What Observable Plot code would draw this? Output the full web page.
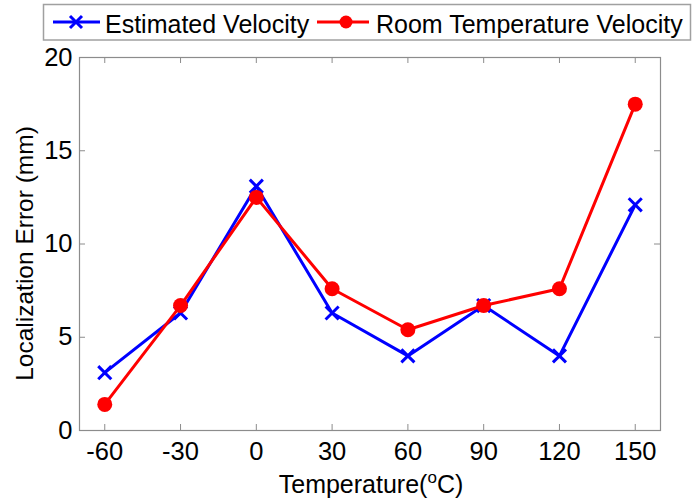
<!DOCTYPE html>
<html>
<head>
<meta charset="utf-8">
<script src="https://cdn.jsdelivr.net/npm/d3@7"></script>
<script src="https://cdn.jsdelivr.net/npm/@observablehq/plot@0.6"></script>
<style>
  html, body { margin: 0; padding: 0; background: #fff; }
  #chart { width: 694px; height: 503px; font-family: "Liberation Sans", Arial, sans-serif; }
  #chart svg { display: block; overflow: visible; }
</style>
</head>
<body>
<div id="chart"></div>
<script>
// Localization error against temperature for two velocity models
const temperatures = [-60, -30, 0, 30, 60, 90, 120, 150];
const estimatedVelocity = [3.1, 6.3, 13.1, 6.3, 4.0, 6.7, 4.0, 12.1];
const roomTempVelocity = [1.4, 6.7, 12.5, 7.6, 5.4, 6.7, 7.6, 17.5];
const xTicks = [-60, -30, 0, 30, 60, 90, 120, 150];
const yTicks = [0, 5, 10, 15, 20];
const seriesNames = ["Estimated Velocity", "Room Temperature Velocity"];

const BLUE = "#0000ff";
const RED = "#ff0000";
const GRID = "#8c8c8c";
const FONT = "Liberation Sans, Arial, sans-serif";
const plainNumber = d => String(d);

const estRows = temperatures.map((t, i) => ({t, v: estimatedVelocity[i]}));
const roomRows = temperatures.map((t, i) => ({t, v: roomTempVelocity[i]}));

const LH = 41;                 // legend strip height
const W = 694, H = 503 - LH;
const mL = 79, mR = 34, mT = 57 - LH, mB = 73;
const innerW = W - mL - mR, innerH = H - mT - mB;
const tickLen = 6;

// Legend strip above the plot
const legend = d3.create("svg")
  .attr("width", W).attr("height", LH)
  .attr("font-family", FONT).attr("font-size", 25);
legend.append("rect")
  .attr("x", 43.5).attr("y", 4.5).attr("width", 647).attr("height", 35.5)
  .attr("fill", "#fff").attr("stroke", "#a0a0a0").attr("stroke-width", 1.5);
// Estimated velocity entry
legend.append("line").attr("x1", 53).attr("x2", 100).attr("y1", 22).attr("y2", 22)
  .attr("stroke", BLUE).attr("stroke-width", 3);
legend.append("path").attr("d", "M70,16L82,28M70,28L82,16")
  .attr("stroke", BLUE).attr("stroke-width", 3).attr("fill", "none");
legend.append("text").attr("x", 105).attr("y", 33).text(seriesNames[0]);
// Room temperature velocity entry
legend.append("line").attr("x1", 317).attr("x2", 369).attr("y1", 22).attr("y2", 22)
  .attr("stroke", RED).attr("stroke-width", 3);
legend.append("circle").attr("cx", 346).attr("cy", 22).attr("r", 6.5).attr("fill", RED);
legend.append("text").attr("x", 376).attr("y", 33).text(seriesNames[1]);

const chart = Plot.plot({
  width: W,
  height: H,
  marginLeft: mL,
  marginRight: mR,
  marginTop: mT,
  marginBottom: mB,
  style: {fontFamily: FONT, fontSize: "25.5px", color: "#000", background: "#fff"},
  x: {domain: [-70, 160]},
  y: {domain: [0, 20]},
  marks: [
    Plot.axisX({ticks: xTicks, tickFormat: plainNumber, tickSize: 0, tickPadding: 11, label: null, fill: "#000"}),
    Plot.axisY({ticks: yTicks, tickFormat: plainNumber, tickSize: 0, tickPadding: 7, label: null, fill: "#000"}),
    // inward ticks on all four sides
    Plot.ruleX(xTicks, {x: d => d, insetTop: innerH - tickLen, stroke: GRID}),
    Plot.ruleX(xTicks, {x: d => d, insetBottom: innerH - tickLen, stroke: GRID}),
    Plot.ruleY(yTicks, {y: d => d, insetRight: innerW - tickLen, stroke: GRID}),
    Plot.ruleY(yTicks, {y: d => d, insetLeft: innerW - tickLen, stroke: GRID}),
    Plot.frame({stroke: GRID, strokeWidth: 1.2}),
    Plot.line(estRows, {x: "t", y: "v", stroke: BLUE, strokeWidth: 3}),
    Plot.dot(estRows, {x: "t", y: "v", symbol: "times", r: 6, stroke: BLUE, strokeWidth: 3}),
    Plot.line(roomRows, {x: "t", y: "v", stroke: RED, strokeWidth: 3}),
    Plot.dot(roomRows, {x: "t", y: "v", r: 7.5, fill: RED, stroke: "none"})
  ]
});

const svg = d3.select(chart);
// Axis titles
svg.append("text")
  .attr("transform", `translate(33, ${mT + innerH / 2 + 10}) rotate(-90)`)
  .attr("text-anchor", "middle")
  .attr("font-family", FONT).attr("font-size", 24.5).attr("fill", "#000")
  .text("Localization Error (mm)");
const xl = svg.append("text")
  .attr("x", 371).attr("y", H - 10)
  .attr("text-anchor", "middle")
  .attr("font-family", FONT).attr("font-size", 25).attr("fill", "#000");
xl.append("tspan").text("Temperature(");
xl.append("tspan").attr("dy", -10).attr("font-size", 17).text("o");
xl.append("tspan").attr("dy", 10).text("C)");

const root = document.getElementById("chart");
root.appendChild(legend.node());
root.appendChild(chart);
</script>
</body>
</html>
